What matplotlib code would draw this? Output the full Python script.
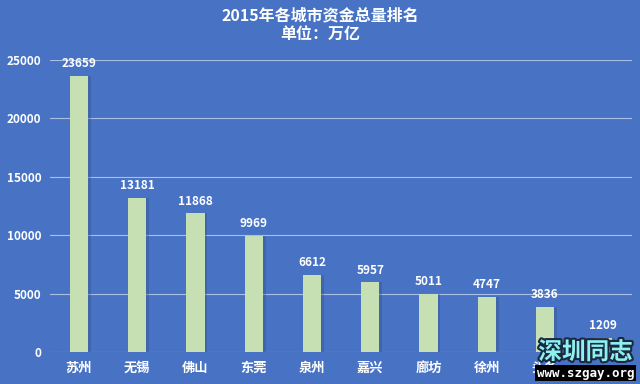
import numpy as np
import matplotlib
matplotlib.use('Agg')
import matplotlib.pyplot as plt
import matplotlib.patheffects as pe

plt.rcParams['font.family'] = ['Noto Sans CJK SC', 'DejaVu Sans']

# 数据
cities = ['苏州', '无锡', '佛山', '东莞', '泉州', '嘉兴', '廊坊', '徐州', '头条', '']
values = [23659, 13181, 11868, 9969, 6612, 5957, 5011, 4747, 3836, 1209]
yticks = [0, 5000, 10000, 15000, 20000, 25000]

bg = '#4873C5'
bar_color = '#C6E0B4'

fig = plt.figure(figsize=(6.4, 3.84), dpi=100, facecolor=bg)
ax = fig.add_axes([0.078, 0.083, 0.91, 0.761], facecolor=bg)

x = np.arange(len(cities))
# 阴影
ax.bar(x + 0.05, values, width=0.31, color='#2F4F7F', alpha=0.35, zorder=2)
bars = ax.bar(x, values, width=0.31, color=bar_color, zorder=3)

for xi, v in zip(x, values):
    ax.text(xi, v + 500, str(v), ha='center', va='bottom', color='white',
            fontsize=8.5, fontweight='bold', zorder=4)

ax.set_xlim(-0.5, len(cities) - 0.5)
ax.set_ylim(0, 25000)
ax.set_yticks(yticks)
ax.set_yticklabels([str(t) for t in yticks], color='white', fontsize=8.5, fontweight='bold')
ax.set_xticks(x)
ax.set_xticklabels(cities, color='white', fontsize=9.5, fontweight='bold')
ax.tick_params(length=0, pad=6)
ax.grid(axis='y', color='#A9BFE6', lw=0.8, zorder=1)
for s in ax.spines.values():
    s.set_visible(False)

fig.text(0.5, 0.96, '2015年各城市资金总量排名', ha='center', va='center',
         color='white', fontsize=11.5, fontweight='bold')
fig.text(0.5, 0.912, '单位：万亿', ha='center', va='center',
         color='white', fontsize=11.5, fontweight='bold')

# 水印
fig.text(0.915, 0.083, '深圳同志', ha='center', va='center', color='#8FF0F0',
         fontsize=17, fontweight='bold', zorder=10,
         path_effects=[pe.withStroke(linewidth=3, foreground='#1A2A40')])
fig.text(0.915, 0.028, 'www.szgay.org', ha='center', va='center', color='white',
         fontsize=9, fontweight='bold', family='DejaVu Sans Mono', zorder=10,
         bbox=dict(facecolor='black', edgecolor='none', pad=1))

fig.savefig('out.png', dpi=100, facecolor=bg)
